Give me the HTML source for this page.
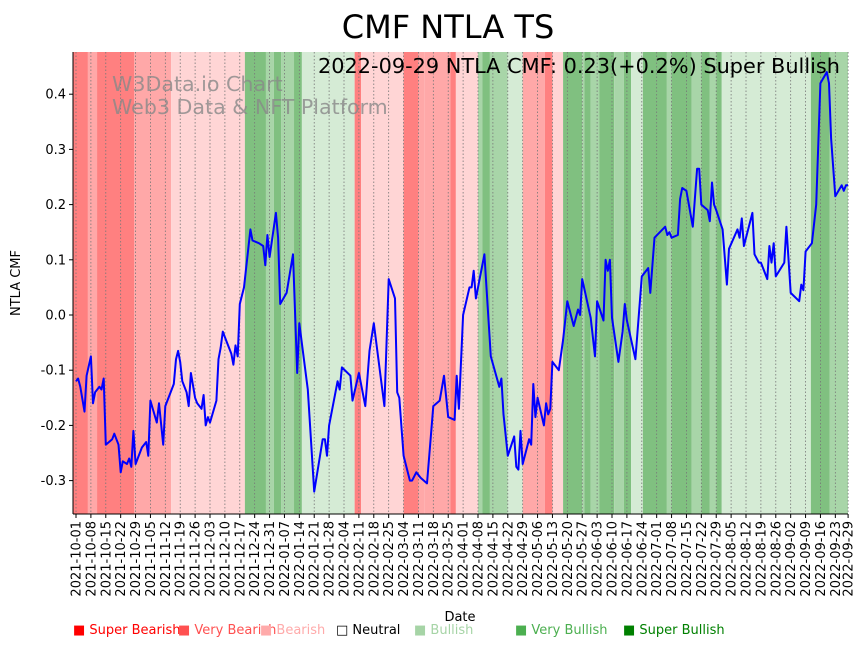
<!DOCTYPE html>
<html><head><meta charset="utf-8">
<style>
body{margin:0;background:#fff;}
svg{display:block;font-family:"DejaVu Sans","Liberation Sans",sans-serif;}
</style></head>
<body>
<svg id="chart" width="867" height="646" viewBox="0 0 867 646" xmlns="http://www.w3.org/2000/svg">
<text x="448" y="38" font-size="32" text-anchor="middle" fill="#000">CMF NTLA TS</text>
<g id="bands"></g>
<g id="grid"></g>
<text x="112" y="91" font-size="20.6" fill="#888" fill-opacity="0.8">W3Data.io Chart</text>
<text x="112" y="114" font-size="20.6" fill="#888" fill-opacity="0.8">Web3 Data &amp; NFT Platform</text>
<text x="840" y="73" font-size="20.5" text-anchor="end" fill="#000" textLength="522" lengthAdjust="spacingAndGlyphs">2022-09-29 NTLA CMF: 0.23(+0.2%) Super Bullish</text>
<path id="line" fill="none" stroke="#0000ff" stroke-width="2" stroke-linejoin="round"/>
<g id="axes"></g>
<text transform="translate(20,283) rotate(-90)" font-size="13" text-anchor="middle">NTLA CMF</text>
<text x="460" y="621" font-size="13" text-anchor="middle">Date</text>
<g font-size="13">
<text x="73" y="634" fill="#ff0000">■ Super Bearish</text>
<text x="178" y="634" fill="#ff5050">■ Very Bearish</text>
<text x="260" y="634" fill="#ffaaaa">■ Bearish</text>
<text x="336" y="634" fill="#000">□ Neutral</text>
<text x="414" y="634" fill="#a6d4a6">■ Bullish</text>
<text x="515" y="634" fill="#4caf50">■ Very Bullish</text>
<text x="623" y="634" fill="#008000">■ Super Bullish</text>
</g>
</svg>
<script>
// day offsets from 2021-10-01 and CMF values
const days = [0,1,2,4,5,7,8,9,11,12,13,14,17,18,20,21,22,24,25,26,27,28,31,33,34,35,38,39,41,42,46,47,48,49,50,52,53,54,56,57,59,60,61,62,63,66,67,68,69,71,73,74,75,76,77,79,82,83,86,88,89,90,91,94,95,96,99,102,104,105,109,112,116,117,118,119,123,124,125,129,130,133,136,138,140,145,147,150,151,152,154,157,158,160,162,165,168,171,173,175,178,179,180,182,185,186,187,188,192,195,199,200,201,203,206,207,208,209,210,213,214,215,216,217,220,221,222,223,224,227,229,231,234,236,237,238,242,244,245,248,249,250,251,252,255,257,258,259,263,266,269,270,272,277,278,279,280,283,284,285,287,290,292,293,294,297,298,299,300,301,304,306,307,311,312,313,314,318,319,321,322,325,326,327,328,329,333,334,336,340,341,342,343,346,348,350,353,354,355,357,360,361,362,363];
const cmf = [-0.12,-0.115,-0.13,-0.175,-0.11,-0.075,-0.16,-0.14,-0.13,-0.135,-0.115,-0.235,-0.225,-0.215,-0.235,-0.285,-0.265,-0.27,-0.26,-0.275,-0.21,-0.27,-0.24,-0.23,-0.255,-0.155,-0.195,-0.16,-0.235,-0.165,-0.125,-0.08,-0.065,-0.085,-0.12,-0.14,-0.165,-0.105,-0.15,-0.16,-0.17,-0.145,-0.2,-0.185,-0.195,-0.155,-0.08,-0.06,-0.03,-0.05,-0.07,-0.09,-0.055,-0.075,0.02,0.05,0.155,0.135,0.13,0.125,0.09,0.145,0.105,0.185,0.14,0.02,0.04,0.11,-0.105,-0.015,-0.135,-0.32,-0.225,-0.225,-0.255,-0.2,-0.12,-0.135,-0.095,-0.11,-0.155,-0.105,-0.165,-0.065,-0.015,-0.165,0.065,0.03,-0.14,-0.15,-0.255,-0.3,-0.3,-0.285,-0.295,-0.305,-0.165,-0.155,-0.11,-0.185,-0.19,-0.11,-0.17,0,0.05,0.05,0.08,0.03,0.11,-0.075,-0.13,-0.115,-0.18,-0.255,-0.22,-0.275,-0.28,-0.21,-0.27,-0.225,-0.235,-0.125,-0.185,-0.15,-0.2,-0.16,-0.18,-0.17,-0.085,-0.1,-0.045,0.025,-0.02,0.01,0,0.065,-0.005,-0.075,0.025,-0.01,0.1,0.08,0.1,-0.005,-0.085,-0.03,0.02,-0.01,-0.08,0.07,0.085,0.04,0.14,0.16,0.145,0.15,0.14,0.145,0.21,0.23,0.225,0.16,0.265,0.265,0.2,0.19,0.17,0.24,0.2,0.19,0.155,0.055,0.12,0.155,0.14,0.175,0.125,0.185,0.11,0.095,0.095,0.065,0.125,0.095,0.13,0.07,0.095,0.16,0.04,0.025,0.055,0.045,0.115,0.13,0.2,0.42,0.44,0.42,0.32,0.215,0.235,0.225,0.235,0.235];
// signal bands (day ranges)
const bandStart = [-1.4,5.6,9.9,27.3,44.7,79.4,89.3,93,96.4,102.5,106.2,131,134,154,161,164,176,178.6,189,191,194.6,203,210,220.4,224,229,238,239,242,246,253,257.6,261,266.5,277.8,280,289.5,294,298,301,303.6,345.5,354.4];
const bandEnd   = [5.6,9.9,27.3,44.7,79.4,89.3,93,96.4,102.5,106.2,131,134,154,161,164,176,178.6,189,191,194.6,203,210,220.4,224,229,238,239,242,246,253,257.6,261,266.5,277.8,280,289.5,294,298,301,303.6,345.5,354.4,363];
const bandCat   = ['sbear','vbear','sbear','vbear','bear','sbull','vbull','sbull','vbull','sbull','bull','sbear','bear','sbear','vbear','vbear','sbear','bear','vbull','sbull','vbull','bull','vbear','sbear','bear','sbull','vbull','sbull','vbull','sbull','vbull','sbull','bull','sbull','vbull','sbull','vbull','sbull','vbull','sbull','bull','sbull','vbull'];
const yTicks = [-0.3,-0.2,-0.1,0.0,0.1,0.2,0.3,0.4];
const startDate = '2021-10-01', endDate = '2022-09-29';

const catColor = {sbear:'#ff8080',vbear:'#ffa8a8',bear:'#ffd5d5',bull:'#d5ebd5',vbull:'#a8d5a8',sbull:'#80c080'};
const L=73,R=848,T=52,B=514;
const x = d => 76 + d*2.127;
const y = v => 315 - v*552;
const NS='http://www.w3.org/2000/svg';
function mk(tag,attrs,parent){const e=document.createElementNS(NS,tag);for(const k in attrs)e.setAttribute(k,attrs[k]);parent.appendChild(e);return e;}

const bandsG=document.getElementById('bands');
for(let i=0;i<bandCat.length;i++){
  const x0=Math.max(L,x(bandStart[i])), x1=Math.min(R,x(bandEnd[i]));
  const r=mk('rect',{x:x0,y:T,width:Math.max(0,x1-x0),height:B-T,fill:catColor[bandCat[i]]},bandsG);
  
  
}

const d0=new Date(startDate+'T00:00:00Z'), dEnd=new Date(endDate+'T00:00:00Z');
const totalDays=Math.round((dEnd-d0)/86400000);
const tickDays=[];
for(let d=0;d<=totalDays;d+=7)tickDays.push(d);
if(tickDays[tickDays.length-1]!==totalDays)tickDays.push(totalDays);
const gridG=document.getElementById('grid'), axesG=document.getElementById('axes');
tickDays.forEach(d=>{
  const px=x(d);
  const g=mk('line',{x1:px,x2:px,y1:T,y2:B,stroke:'#777','stroke-width':0.8,'stroke-dasharray':'1.5,2'},gridG);
  
  
  const t=mk('line',{x1:px,x2:px,y1:B,y2:B+4,stroke:'#000','stroke-width':1},axesG);
  
  
  const dt=new Date(d0.getTime()+d*86400000).toISOString().slice(0,10);
  const lb=mk('text',{transform:`translate(${px+4.5},${B+7}) rotate(-90)`,'font-size':13,'text-anchor':'end'},axesG);
  lb.textContent=dt;
  
  
});
yTicks.forEach(v=>{
  const py=y(v);
  const t=mk('line',{x1:L-4,x2:L,y1:py,y2:py,stroke:'#000','stroke-width':1},axesG);
  
  
  const lb=mk('text',{x:L-7,y:py+4.5,'font-size':13,'text-anchor':'end'},axesG);
  lb.textContent=v.toFixed(1);
  
  
});
const ya=mk('line',{x1:L,x2:L,y1:T,y2:B,stroke:'#000','stroke-width':1},axesG);


const xa=mk('line',{x1:L,x2:R,y1:B,y2:B,stroke:'#000','stroke-width':1},axesG);



document.getElementById('line').setAttribute('d',days.map((d,i)=>(i?'L':'M')+x(d).toFixed(1)+','+y(cmf[i]).toFixed(1)).join(''));
</script>
</body></html>
